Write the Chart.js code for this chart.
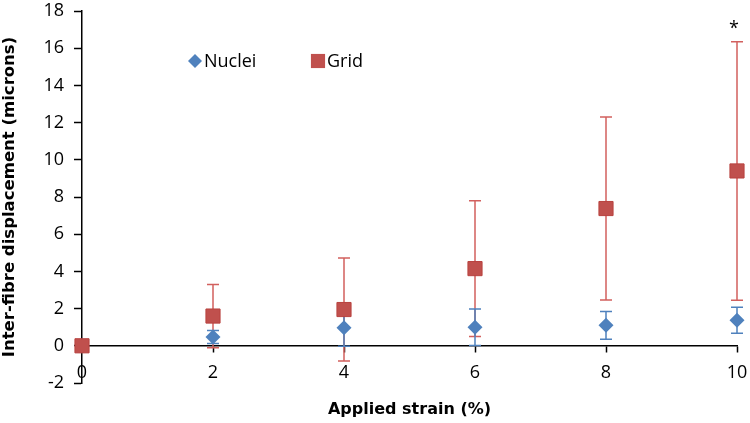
<!DOCTYPE html>
<html>
<head>
<meta charset="utf-8">
<script src="https://cdn.jsdelivr.net/npm/chart.js@4.4.0/dist/chart.umd.min.js"></script>
<style>
  html, body { margin: 0; padding: 0; background: #fff; }
  #wrap { width: 750px; height: 423px; position: relative; }
</style>
</head>
<body>
<div id="wrap"><canvas id="strainChart"></canvas></div>
<script>
/* ---------- data ---------- */
const strain      = [0, 2, 4, 6, 8, 10];
const nucleiMean  = [0, 0.47, 0.97, 1.0, 1.1, 1.37];
const nucleiErr   = [0, 0.35, 1.0, 0.98, 0.75, 0.7];
const gridMean    = [0, 1.6, 1.95, 4.15, 7.38, 9.4];
const gridErr     = [0, 1.7, 2.77, 3.65, 4.92, 6.95];
const xTicks      = [0, 2, 4, 6, 8, 10];
const yTicks      = [-2, 0, 2, 4, 6, 8, 10, 12, 14, 16, 18];
const starAt      = 10;   // significance marker on Grid

const BLUE = '#4f81bd';
const RED  = '#c0504d';
const FONT = "'Open Sans', 'Liberation Sans', sans-serif";
const TITLE_FONT = "'DejaVu Sans', sans-serif";

/* ---------- error bars drawn under the markers ---------- */
const errorBars = {
  id: 'errorBars',
  beforeDatasetsDraw(chart) {
    const { ctx, scales: { x, y } } = chart;
    const sets = [
      { mean: gridMean, err: gridErr, color: '#d2605e' },
      { mean: nucleiMean, err: nucleiErr, color: BLUE },
    ];
    ctx.save();
    ctx.lineWidth = 1.5;
    sets.forEach(s => {
      ctx.strokeStyle = s.color;
      strain.forEach((v, i) => {
        if (!s.err[i]) return;
        const px = x.getPixelForValue(v);
        const top = y.getPixelForValue(s.mean[i] + s.err[i]);
        const bot = y.getPixelForValue(s.mean[i] - s.err[i]);
        ctx.beginPath();
        ctx.moveTo(px, top); ctx.lineTo(px, bot);
        ctx.moveTo(px - 6, top); ctx.lineTo(px + 6, top);
        ctx.moveTo(px - 6, bot); ctx.lineTo(px + 6, bot);
        ctx.stroke();
      });
    });
    ctx.restore();
  },
  afterDraw(chart) {
    const { ctx, chartArea, scales: { x, y } } = chart;
    ctx.save();
    // asterisk above the last Grid bar
    const i = strain.indexOf(starAt);
    ctx.fillStyle = '#000';
    ctx.font = '18px ' + FONT;
    ctx.textAlign = 'center';
    ctx.textBaseline = 'middle';
    ctx.fillText('*', x.getPixelForValue(starAt) - 3, y.getPixelForValue(gridMean[i] + gridErr[i]) - 13);

    // legend inside the plot
    const lx = chartArea.left + 113, ly = chartArea.top + 50;
    ctx.font = '18px ' + FONT;
    ctx.textAlign = 'left';
    ctx.fillStyle = BLUE;
    Chart.helpers.drawPoint(ctx, { pointStyle: 'rectRot', radius: 7, rotation: 0, borderWidth: 0 }, lx, ly);
    ctx.fillStyle = '#000';
    ctx.fillText('Nuclei', lx + 9, ly + 1);
    ctx.fillStyle = RED;
    Chart.helpers.drawPoint(ctx, { pointStyle: 'rect', radius: 10, rotation: 0, borderWidth: 0 }, lx + 123, ly);
    ctx.fillStyle = '#000';
    ctx.fillText('Grid', lx + 132, ly + 1);
    ctx.restore();
  }
};

/* ---------- chart ---------- */
new Chart(document.getElementById('strainChart'), {
  type: 'scatter',
  data: {
    datasets: [
      {
        label: 'Grid',
        data: strain.map((v, i) => ({ x: v, y: gridMean[i] })),
        pointStyle: 'rect',
        pointRadius: 10,
        pointHoverRadius: 10,
        backgroundColor: RED,
        borderColor: '#b8423f',
        borderWidth: 1,
        clip: false,
        order: 0,
      },
      {
        label: 'Nuclei',
        data: strain.map((v, i) => ({ x: v, y: nucleiMean[i] })),
        pointStyle: 'rectRot',
        pointRadius: 7.5,
        pointHoverRadius: 7.5,
        backgroundColor: BLUE,
        borderColor: BLUE,
        borderWidth: 0,
        clip: false,
        order: 1,
      },
    ],
  },
  options: {
    responsive: true,
    maintainAspectRatio: false,
    animation: false,
    layout: { padding: { top: 5, right: 13, bottom: 0, left: 0 } },
    plugins: {
      legend: { display: false },
      tooltip: { enabled: false },
    },
    scales: {
      x: {
        type: 'linear',
        position: { y: 0 },
        min: 0,
        max: 10,
        afterBuildTicks: s => { s.ticks = xTicks.map(v => ({ value: v })); },
        grid: { drawOnChartArea: false, tickLength: 6, tickColor: '#000', tickWidth: 1.5 },
        border: { color: '#000', width: 1.5 },
        ticks: { color: '#000', padding: 10, font: { family: FONT, size: 18 } },
        afterFit: s => { s.paddingLeft = 0; s.paddingRight = 0; },
      },
      xTitle: {
        type: 'linear',
        position: 'bottom',
        axis: 'x',
        grid: { display: false },
        border: { display: false },
        ticks: { display: false },
        title: {
          display: true,
          text: 'Applied strain (%)',
          color: '#000',
          font: { family: TITLE_FONT, size: 16, weight: 'bold' },
          padding: { top: 0, bottom: 4 },
        },
        afterFit: s => { s.height = 40; s.paddingLeft = 0; s.paddingRight = 0; },
      },
      y: {
        min: -2,
        max: 18,
        afterBuildTicks: s => { s.ticks = yTicks.map(v => ({ value: v })); },
        grid: { drawOnChartArea: false, tickLength: 8, tickColor: '#000', tickWidth: 1.5 },
        border: { color: '#000', width: 1.5 },
        ticks: { color: '#000', padding: 10, font: { family: FONT, size: 18, lineHeight: 1 } },
        title: {
          display: true,
          text: 'Inter-fibre displacement (microns)',
          color: '#000',
          font: { family: TITLE_FONT, size: 16.5, weight: 'bold' },
          padding: { top: 0, bottom: 0 },
        },
        afterFit: s => { s.width = 82; s.paddingTop = 0; s.paddingBottom = 0; },
      },
    },
  },
  plugins: [errorBars],
});
</script>
</body>
</html>
